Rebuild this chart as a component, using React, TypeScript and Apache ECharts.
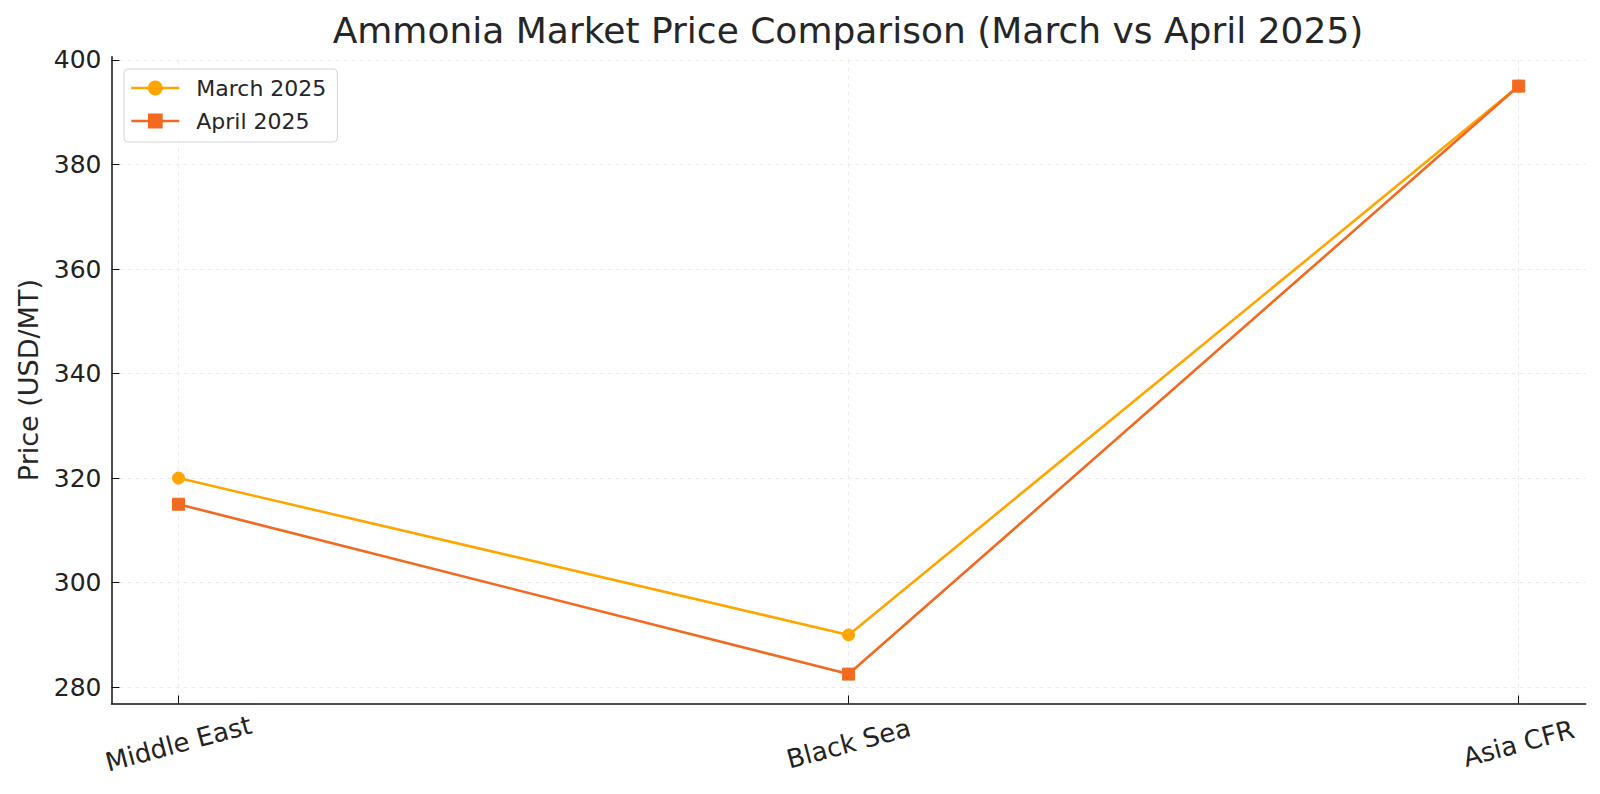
import React, { useEffect, useRef } from "react";
import * as echarts from "echarts";

const categories = ["Middle East", "Black Sea", "Asia CFR"];
const marchValues = [320, 290, 395];
const aprilValues = [315, 282.5, 395];
const yTicks = [280, 300, 320, 340, 360, 380, 400];
const seriesNames = ["March 2025", "April 2025"];
const titleText = "Ammonia Market Price Comparison (March vs April 2025)";
const yAxisName = "Price (USD/MT)";

const FONT = "DejaVu Sans";
const MARCH_COLOR = "#FFA500";
const APRIL_COLOR = "#F26A21";

export default function App() {
  const ref = useRef<HTMLDivElement>(null);

  useEffect(() => {
    if (!ref.current) return;
    const chart = echarts.init(ref.current, null, { renderer: "svg" });

    const all = [...marchValues, ...aprilValues];
    const dMin = Math.min(...all);
    const dMax = Math.max(...all);
    const pad = (dMax - dMin) * 0.05;
    const xIdx = categories.map((_, i) => i);

    const gridLines = [
      ...xIdx.map((i) => ({ xAxis: i })),
      ...yTicks.map((v) => ({ yAxis: v })),
    ];

    chart.setOption({
      animation: false,
      backgroundColor: "#ffffff",
      textStyle: { fontFamily: FONT },
      graphic: [
        {
          type: "text",
          x: 848,
          y: 30.5,
          style: {
            text: titleText,
            font: `36px "${FONT}"`,
            fill: "#262626",
            align: "center",
            verticalAlign: "middle",
          },
        },
      ],
      legend: {
        orient: "vertical",
        left: 124,
        top: 69,
        z: 20,
        data: seriesNames,
        padding: [8, 11, 10, 6],
        itemWidth: 48,
        itemHeight: 16,
        itemGap: 11,
        borderColor: "#d4d4d4",
        borderWidth: 1,
        borderRadius: 4,
        backgroundColor: "rgba(255,255,255,0.8)",
        lineStyle: { width: 2.6 },
        textStyle: {
          fontFamily: FONT,
          fontSize: 22,
          color: "#262626",
          padding: [0, 0, 0, 12],
        },
      },
      grid: {
        left: 111.5,
        right: 14.3,
        top: 56.7,
        bottom: 90.5,
        containLabel: false,
      },
      xAxis: {
        type: "value",
        min: -0.1,
        max: categories.length - 1 + 0.1,
        axisLine: { show: true, onZero: false, lineStyle: { color: "#111", width: 1.5 } },
        axisTick: {
          show: true,
          inside: true,
          length: 8,
          customValues: xIdx,
          lineStyle: { color: "#111", width: 1 },
        },
        splitLine: { show: false },
        axisLabel: {
          customValues: xIdx,
          formatter: (v: number) => categories[Math.round(v)] ?? "",
          rotate: 15,
          align: "center",
          verticalAlign: "middle",
          margin: 40,
          fontFamily: FONT,
          fontSize: 26,
          color: "#222",
        },
      },
      yAxis: {
        type: "value",
        min: dMin - pad,
        max: dMax + pad,
        name: yAxisName,
        nameLocation: "middle",
        nameGap: 70,
        nameTextStyle: { fontFamily: FONT, fontSize: 27, color: "#262626" },
        axisLine: { show: true, onZero: false, lineStyle: { color: "#111", width: 1.5 } },
        axisTick: {
          show: true,
          inside: true,
          length: 8,
          customValues: yTicks,
          lineStyle: { color: "#111", width: 1 },
        },
        splitLine: { show: false },
        axisLabel: {
          customValues: yTicks,
          margin: 10,
          fontFamily: FONT,
          fontSize: 25,
          color: "#222",
        },
      },
      series: [
        {
          type: "line",
          data: [],
          silent: true,
          z: 0,
          markLine: {
            z: 0,
            silent: true,
            symbol: ["none", "none"],
            label: { show: false },
            lineStyle: { color: "#ebebeb", width: 1, type: [4, 4] },
            data: gridLines,
          },
        },
        {
          name: seriesNames[0],
          type: "line",
          z: 10,
          data: marchValues.map((v, i) => [i, v]),
          symbol: "circle",
          symbolSize: 12,
          lineStyle: { color: MARCH_COLOR, width: 2.6 },
          itemStyle: { color: MARCH_COLOR, borderColor: MARCH_COLOR, borderWidth: 1, opacity: 1 },
        },
        {
          name: seriesNames[1],
          type: "line",
          z: 11,
          data: aprilValues.map((v, i) => [i, v]),
          symbol: "rect",
          symbolSize: 12,
          lineStyle: { color: APRIL_COLOR, width: 2.6 },
          itemStyle: { color: APRIL_COLOR, borderColor: APRIL_COLOR, borderWidth: 1, opacity: 1 },
        },
      ],
    });

    return () => chart.dispose();
  }, []);

  return (
    <div
      ref={ref}
      style={{ position: "fixed", left: 0, top: 0, width: 1600, height: 794 }}
    />
  );
}
